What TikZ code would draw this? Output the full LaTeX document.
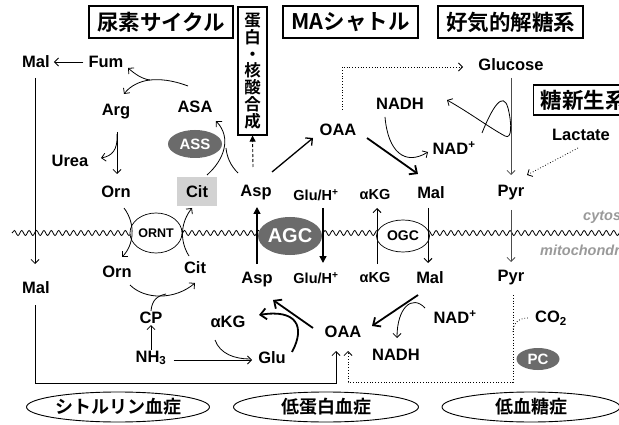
\documentclass[tikz,border=0pt]{standalone}
\usepackage{fontspec}
\setmainfont{Liberation Sans}
\newfontfamily\jp{Noto Sans CJK JP}[BoldFont={* Bold}]
\usetikzlibrary{arrows.meta,shapes.geometric,decorations.pathmorphing,calc}
\definecolor{enzgray}{HTML}{6B6B6B}
\definecolor{citgray}{HTML}{D2D2D2}
\definecolor{memgray}{HTML}{9A9A9A}
\begin{document}
\begin{tikzpicture}[x=1pt,y=-1pt,
  lbl/.style={font=\bfseries\fontsize{16.5}{17}\selectfont, inner sep=1pt},
  slbl/.style={font=\bfseries\fontsize{14.5}{15}\selectfont, inner sep=1pt},
  ttl/.style={draw, line width=1.1pt, font=\jp\bfseries\fontsize{21.5}{22}\selectfont, inner sep=0pt},
  dis/.style={draw, ellipse, line width=0.9pt, font=\jp\bfseries\fontsize{18}{19}\selectfont, inner sep=0pt},
  enzd/.style={ellipse, fill=enzgray, text=white, font=\bfseries\fontsize{15}{16}\selectfont, inner sep=0pt},
  enzw/.style={ellipse, draw, fill=white, line width=0.7pt, font=\bfseries\fontsize{12.5}{13}\selectfont, inner sep=0pt},
  memlbl/.style={text=memgray, font=\bfseries\itshape\fontsize{14.5}{15}\selectfont, inner sep=0pt, anchor=west},
  arr/.style={line width=0.8pt, -{Straight Barb[length=4pt,width=8pt]}},
  plain/.style={line width=0.8pt},
  tarr/.style={line width=1.8pt, -{Straight Barb[length=6pt,width=11pt]}},
  marr/.style={line width=1.3pt, -{Straight Barb[length=5pt,width=10pt]}},
  farr/.style={line width=1.5pt, -{Triangle[length=7pt,width=7pt]}},
  dotarr/.style={line width=0.8pt, dotted, -{Straight Barb[length=4pt,width=8pt]}},
]
\useasboundingbox (0,0) rectangle (619,425);
\clip (0,0) rectangle (619,425);
\fill[white] (0,0) rectangle (619,425);

% membrane
\draw[line width=0.8pt, decorate, decoration={snake, amplitude=2.5pt, segment length=7.4pt}] (12,233) -- (630,233);
\node[memlbl] (cyto) at (583,217) {cytosol};
\node[memlbl] (mito) at (540,250) {mitochondria};

% title boxes
\node[ttl, minimum width=144, minimum height=32] (tUrea) at (161,22) {尿素サイクル};
\node[draw, line width=1.1pt, minimum width=29, minimum height=128, inner sep=0pt, align=center,
      font=\jp\bfseries\fontsize{16.5}{16.8}\selectfont] (tProt) at (252.5,71) {蛋\\白\\・\\核\\酸\\合\\成};
\node[ttl, minimum width=135, minimum height=32] (tMA) at (350.5,22) {MAシャトル};
\node[ttl, minimum width=145, minimum height=32] (tGly) at (510.5,22) {好気的解糖系};
\node[ttl, minimum width=110, minimum height=30, anchor=west, text width=96, inner xsep=6pt] (tGNG) at (533,100) {糖新生系};

% cytosol nodes
\node[lbl] (Mal1) at (36,62) {Mal};
\node[lbl] (Fum) at (106,62) {Fum};
\node[lbl] (Arg) at (116,112) {Arg};
\node[lbl] (ASA) at (195,107) {ASA};
\node[lbl] (Urea) at (70,161) {Urea};
\node[lbl] (Orn1) at (116,192) {Orn};
\node[lbl, fill=citgray, minimum width=40, minimum height=29, inner sep=0pt] (Cit1) at (197,192) {Cit};
\node[enzd, minimum width=54, minimum height=28] (ASS) at (195,144) {ASS};
\node[lbl] (Asp1) at (256,193) {Asp};
\node[slbl] (GluH1) at (316,195) {Glu/H\textsuperscript{+}};
\node[slbl] (aKG1) at (375,195) {αKG};
\node[lbl] (Mal3) at (431,193) {Mal};
\node[lbl] (Pyr1) at (511,193) {Pyr};
\node[lbl] (OAA1) at (338,130) {OAA};
\node[lbl] (NADH1) at (400,104) {NADH};
\node[lbl] (NAD1) at (454,148) {NAD\textsuperscript{+}};
\node[lbl] (Glucose) at (511,65) {Glucose};
\node[lbl] (Lactate) at (581,135) {Lactate};

% carriers
\node[enzw, minimum width=52, minimum height=40] (ORNT) at (156,233) {ORNT};
\node[enzd, minimum width=64, minimum height=38, font=\bfseries\fontsize{20}{21}\selectfont] (AGC) at (290,236) {AGC};
\node[enzw, minimum width=53, minimum height=32, font=\bfseries\fontsize{14}{15}\selectfont] (OGC) at (403,236) {OGC};

% mitochondria nodes
\node[lbl] (Orn2) at (117,272) {Orn};
\node[lbl] (Cit2) at (195,268) {Cit};
\node[lbl] (Mal2) at (36,288) {Mal};
\node[lbl] (Asp2) at (257,280) {Asp};
\node[slbl] (GluH2) at (316,278) {Glu/H\textsuperscript{+}};
\node[slbl] (aKG2) at (375,278) {αKG};
\node[lbl] (Mal4) at (430,278) {Mal};
\node[lbl] (Pyr2) at (511,278) {Pyr};
\node[lbl] (CP) at (151,318) {CP};
\node[lbl] (NH3) at (151,358) {NH\textsubscript{3}};
\node[lbl] (aKG3) at (228,322) {αKG};
\node[lbl] (Glu) at (272,358) {Glu};
\node[lbl] (OAA2) at (343,332) {OAA};
\node[lbl] (NADH2) at (396,355) {NADH};
\node[lbl] (NAD2) at (455,317) {NAD\textsuperscript{+}};
\node[lbl] (CO2) at (551,318) {CO\textsubscript{2}};
\node[enzd, minimum width=43, minimum height=22] (PC) at (538,359) {PC};

% disease ellipses
\node[dis, minimum width=183, minimum height=30] (dCit) at (118,407) {シトルリン血症};
\node[dis, minimum width=185, minimum height=30] (dProt) at (326,407) {低蛋白血症};
\node[dis, minimum width=178, minimum height=30] (dGlc) at (531,407) {低血糖症};

% ---- urea cycle ----
\draw[arr] ([xshift=-4pt]Fum.west) -- ([xshift=3pt]Mal1.east);
\coordinate (asaT) at (188,86);
\coordinate (jA) at (150,80);
\draw[arr] (asaT) .. controls (172,80) and (160,79) .. (jA) .. controls (142,79) and (135,74) .. (128,68);
\draw[arr] (jA) .. controls (140,81) and (130,86) .. (124,94);
\draw[arr] (117,132) -- (117,174);
\draw[arr] (117,134) .. controls (118,150) and (112,156) .. (101,158);
\coordinate (citT) at (207,175);
\coordinate (aspT) at (238,173);
\draw[arr] (citT) .. controls (224,160) and (232,138) .. (216,121);
\draw[plain] (aspT) .. controls (231,166) and (227,158) .. (226,148);
\draw[line width=0.9pt, densely dashed, -{Triangle[length=6pt,width=6pt]}] (253,167) -- (tProt.south);
% through ORNT
\draw[arr] (124,208) .. controls (136,224) and (134,245) .. (122,257);
\draw[arr] (189,256) .. controls (179,240) and (181,222) .. (192,208);
% Orn -> Cit with CP
\draw[arr] (130,285) .. controls (145,300) and (175,300) .. (195,283);
\draw[plain] (CP.north) .. controls (152,300) and (157,296) .. (166,294);
\draw[arr] (NH3.north) -- (CP.south);
\draw[arr] ([xshift=6pt,yshift=-2pt]NH3.east) -- (252,360);
\draw[plain] (215,340) .. controls (220,354) and (235,359) .. (250,359);
% Glu -> aKG, OAA -> Asp
\draw[tarr] (292,352) .. controls (306,326) and (296,309) .. (259,315);
\draw[tarr] (313,328) -- (273,300);
% ---- MA shuttle ----
\draw[marr] (272,172) -- (313,138);
\draw[tarr] (367,138) -- (418,174);
\draw[arr] (385,117) .. controls (388,152) and (405,166) .. (428,152);
\draw[tarr] (418,295) -- (372,326);
\draw[arr] (425,308) .. controls (412,294) and (397,308) .. (397,338);
% transporters
\draw[farr] (257,264) -- (257,207);
\draw[farr] (323,208) -- (323,263);
\draw[arr, line width=1pt] (377,264) -- (377,208);
\draw[arr, line width=1pt] (428,208) -- (428,263);
% ---- glycolysis / gluconeogenesis ----
\draw[dotarr] (342,110) -- (342,67) -- (463,67);
\draw[arr, draw=black!70] (511,78) -- (511,175);
\draw[arr, draw=black!70] (511,210) -- (511,262);
\draw[arr, line width=0.8pt] (482,133) .. controls (492,108) and (503,90) .. (508,108)
   .. controls (512,124) and (512,140) .. (505,136) .. controls (490,128) and (470,113) .. (447,100);
\draw[dotarr] (578,148) -- (527,175);
% left Mal
\draw[arr] (35,78) -- (35,264);
\draw[arr] (35,305) -- (35,383) -- (336,383) -- (336,351);
\draw[dotarr] (513,295) -- (513,382) -- (348,382) -- (348,351);
\draw[line width=0.8pt, dotted] (513,332) .. controls (513,322) and (520,318) .. (528,318);
\end{tikzpicture}
\end{document}
